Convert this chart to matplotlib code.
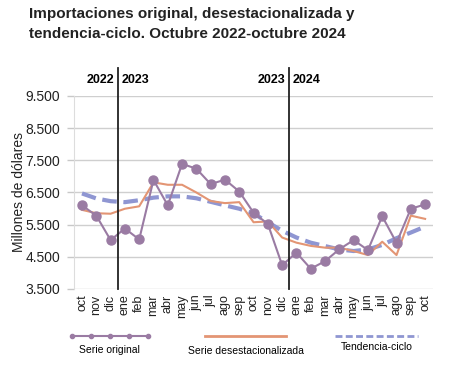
import matplotlib
matplotlib.use("Agg")
import matplotlib.pyplot as plt
import numpy as np
from matplotlib.ticker import FuncFormatter
from matplotlib.lines import Line2D

# ---- data (millones de dólares), oct 2022 - oct 2024 ----
months = ["oct", "nov", "dic", "ene", "feb", "mar", "abr", "may", "jun", "jul", "ago", "sep",
          "oct", "nov", "dic", "ene", "feb", "mar", "abr", "may", "jun", "jul", "ago", "sep", "oct"]
original = [6100, 5780, 5020, 5380, 5040, 6890, 6100, 7390, 7240, 6760, 6900, 6530,
            5870, 5520, 4240, 4630, 4130, 4365, 4735, 5020, 4710, 5760, 4935, 5995, 6130]
desest = [5960, 5855, 5840, 5995, 6070, 6815, 6740, 6740, 6500, 6235, 6170, 6200,
          5575, 5600, 5100, 4940, 4840, 4785, 4785, 4680, 4555, 4970, 4555, 5780, 5680]
tendencia = [6470, 6315, 6230, 6200, 6260, 6340, 6380, 6380, 6320, 6210, 6100, 5995,
             5850, 5575, 5310, 5100, 4940, 4835, 4730, 4680, 4730, 4870, 5080, 5255, 5440]
year_breaks = [2.5, 14.5]
year_labels = [("2022", "2023"), ("2023", "2024")]

C_ORIG = "#9a7ba3"
C_DES = "#e39574"
C_TEN = "#8f96d2"
FONT = "Liberation Sans"

fig = plt.figure(figsize=(4.54, 3.76), dpi=100)
ax = fig.add_axes([0.163, 0.2314, 0.791, 0.5133])
x = np.arange(len(months))

ax.plot(x, tendencia, color=C_TEN, lw=3, dashes=(3.5, 1.6), zorder=2)
ax.plot(x, desest, color=C_DES, lw=1.5, zorder=3)
ax.plot(x, original, color=C_ORIG, lw=1.5, marker="o", ms=6.5, zorder=4)

ax.set_xlim(-0.56, 24.56)
ax.set_ylim(3500, 9500)
ax.set_yticks(range(3500, 9501, 1000))
ax.yaxis.set_major_formatter(FuncFormatter(lambda v, p: f"{int(v):,}".replace(",", ".")))
ax.set_xticks(x)
ax.set_xticklabels(months, rotation=90, fontsize=9, family=FONT, color="#222222")
ax.tick_params(axis="y", labelsize=10, length=5, width=1, color="#c8c8c8", pad=5,
               labelcolor="#222222")
ax.tick_params(axis="x", length=0, pad=4)
for lbl in ax.get_yticklabels():
    lbl.set_family(FONT)
ax.grid(axis="y", color="#cfcfcf", lw=1)
for s in ["top", "right", "bottom"]:
    ax.spines[s].set_visible(False)
ax.spines["left"].set_color("#dddddd")
ax.set_axisbelow(True)
ax.set_ylabel("Millones de dólares", fontsize=10, family=FONT, color="#222222")
ax.yaxis.set_label_coords(-0.135, 0.5)

for xb, (left, right) in zip(year_breaks, year_labels):
    ax.axvline(xb, ymin=0, ymax=1.145, color="#222222", lw=1.3, clip_on=False, zorder=5)
    ax.text(xb - 0.25, 1.085, left, transform=ax.get_xaxis_transform(), ha="right", va="center",
            fontsize=9, fontweight="bold", family=FONT)
    ax.text(xb + 0.25, 1.085, right, transform=ax.get_xaxis_transform(), ha="left", va="center",
            fontsize=9, fontweight="bold", family=FONT)

fig.text(0.064, 0.982, "Importaciones original, desestacionalizada y\ntendencia-ciclo. Octubre 2022-octubre 2024",
         ha="left", va="top", fontsize=11, fontweight="bold", family=FONT,
         color="#222222", linespacing=1.55)

# ---- legend (custom, below the chart) ----
lx = np.linspace(0.159, 0.326, 5)
fig.add_artist(Line2D(lx, [0.107] * 5, transform=fig.transFigure, color=C_ORIG, lw=1.5,
                      marker="o", ms=3))
fig.add_artist(Line2D([0.451, 0.630], [0.107, 0.107], transform=fig.transFigure, color=C_DES, lw=2))
fig.add_artist(Line2D([0.738, 0.920], [0.107, 0.107], transform=fig.transFigure, color=C_TEN, lw=2,
                      dashes=(2.5, 1.2)))
for xc, yc, t in [(0.242, 0.069, "Serie original"), (0.541, 0.067, "Serie desestacionalizada"),
                  (0.829, 0.077, "Tendencia-ciclo")]:
    fig.text(xc, yc, t, ha="center", va="center", fontsize=7.5, family=FONT)

fig.savefig("out.png", dpi=100)
